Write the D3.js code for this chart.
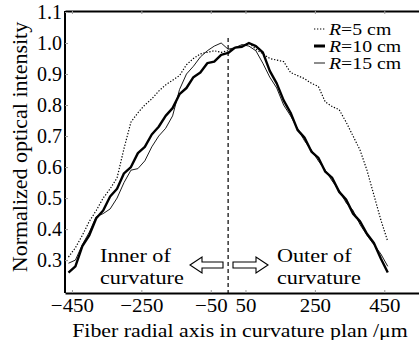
<!DOCTYPE html>
<html>
<head>
<meta charset="utf-8">
<script src="https://cdn.jsdelivr.net/npm/d3@7"></script>
<style>
  body { margin: 0; background: #fff; }
</style>
</head>
<body>
<div id="chart"></div>
<script>
// radial positions (um) shared by the three profiles
var radialPos = [-460, -440, -420, -400, -380, -360, -340, -320, -300, -280,
                 -260, -240, -220, -200, -180, -160, -140, -120, -100, -80,
                 -60, -40, -20, 0, 20, 40, 60, 80, 100, 120,
                 140, 160, 180, 200, 220, 240, 260, 280, 300, 320,
                 340, 360, 380, 400, 420, 440, 460];

var r5cm  = [0.31, 0.34, 0.38, 0.425, 0.46, 0.50, 0.53, 0.565, 0.66, 0.745,
             0.775, 0.80, 0.82, 0.845, 0.865, 0.88, 0.895, 0.93, 0.95, 0.965,
             0.97, 0.975, 0.97, 0.975, 0.985, 0.99, 1.0, 0.98, 0.965, 0.95,
             0.945, 0.94, 0.905, 0.895, 0.885, 0.87, 0.86, 0.81, 0.795, 0.785,
             0.745, 0.70, 0.655, 0.59, 0.51, 0.43, 0.36];

var r10cm = [0.26, 0.28, 0.345, 0.38, 0.435, 0.46, 0.505, 0.53, 0.58, 0.60,
             0.645, 0.665, 0.705, 0.73, 0.765, 0.79, 0.835, 0.855, 0.89, 0.905,
             0.935, 0.94, 0.962, 0.968, 0.985, 0.988, 1.0, 0.99, 0.97, 0.91,
             0.87, 0.815, 0.775, 0.72, 0.695, 0.65, 0.63, 0.585, 0.565, 0.52,
             0.495, 0.45, 0.425, 0.385, 0.355, 0.305, 0.26];

var r15cm = [0.29, 0.30, 0.35, 0.39, 0.44, 0.45, 0.465, 0.50, 0.55, 0.59,
             0.595, 0.62, 0.665, 0.70, 0.725, 0.765, 0.85, 0.90, 0.925, 0.955,
             0.975, 0.99, 1.0, 0.98, 0.985, 0.995, 0.99, 0.975, 0.935, 0.89,
             0.855, 0.80, 0.765, 0.725, 0.685, 0.655, 0.62, 0.59, 0.555, 0.525,
             0.485, 0.46, 0.415, 0.38, 0.35, 0.32, 0.28];

var xTicks = [-450, -250, -50, 50, 250, 450];
var yTicks = [0.3, 0.4, 0.5, 0.6, 0.7, 0.8, 0.9, 1.0, 1.1];
var legendRadii = ["5", "10", "15"];

var width = 419, height = 340;
var serif = "'Liberation Serif'";

var x = d3.scaleLinear().domain([-470, 550]).range([65, 419]);
var y = d3.scaleLinear().domain([0.194, 1.1]).range([293, 12]);

var svg = d3.select("#chart").append("svg")
  .attr("width", width)
  .attr("height", height);

// axes
var xAxis = d3.axisBottom(x).tickValues(xTicks)
  .tickSizeInner(-3).tickSizeOuter(0).tickPadding(6)
  .tickFormat(d3.format("d"));

var gx = svg.append("g")
  .attr("transform", "translate(0,293)")
  .call(xAxis);
gx.select(".domain").attr("stroke-width", 2);
gx.selectAll(".tick line").attr("stroke", "#999");
gx.selectAll("text").attr("font-size", 19).attr("transform", "scale(1.1,1)");

var gtop = svg.append("g")
  .attr("transform", "translate(0,11)")
  .call(d3.axisTop(x).tickValues(xTicks).tickSizeInner(-3).tickSizeOuter(0).tickFormat(""));
gtop.select(".domain").attr("stroke-width", 2);
gtop.selectAll(".tick line").attr("stroke", "#999");

var yAxis = d3.axisLeft(y).tickValues(yTicks)
  .tickSizeInner(-3).tickSizeOuter(0).tickPadding(3)
  .tickFormat(d3.format(".1f"));

var gy = svg.append("g")
  .attr("transform", "translate(65,0)")
  .call(yAxis);
gy.select(".domain").attr("stroke-width", 2).attr("d", "M0,11V293");
gy.selectAll(".tick line").attr("stroke", "#999");
gy.selectAll("text").attr("font-size", 20);

// axis titles
svg.append("text")
  .attr("transform", "translate(240,337) scale(1.15,1)")
  .attr("text-anchor", "middle")
  .attr("font-size", 19)
  .text("Fiber radial axis in curvature plan /\u03bcm");

svg.append("text")
  .attr("transform", "translate(27,147) rotate(-90)")
  .attr("text-anchor", "middle")
  .attr("font-size", 22)
  .text("Normalized optical intensity");

// centre line
svg.append("line")
  .attr("x1", x(0)).attr("x2", x(0))
  .attr("y1", 38).attr("y2", 294)
  .attr("stroke", "#000")
  .attr("stroke-width", 1.2)
  .attr("stroke-dasharray", "4,3");

// profiles
var line = d3.line()
  .x(function(d, i) { return x(radialPos[i]); })
  .y(function(d) { return y(d); });

var styles = [
  {data: r5cm,  width: 1.2, dash: "1.3,1.7"},
  {data: r10cm, width: 2.4, dash: null},
  {data: r15cm, width: 0.9, dash: null}
];

styles.forEach(function(s) {
  svg.append("path")
    .datum(s.data)
    .attr("fill", "none")
    .attr("stroke", "#000")
    .attr("stroke-width", s.width)
    .attr("stroke-dasharray", s.dash)
    .attr("stroke-linejoin", "round")
    .attr("d", line);
});

// legend (text squeezed vertically like the scanned figure)
var legend = svg.append("g");
legendRadii.forEach(function(r, i) {
  var ly = 29 + i * 17;
  legend.append("line")
    .attr("x1", 314).attr("x2", 325)
    .attr("y1", ly).attr("y2", ly)
    .attr("stroke", "#000")
    .attr("stroke-width", i === 1 ? 3 : styles[i].width)
    .attr("stroke-dasharray", styles[i].dash);
  var t = legend.append("text")
    .attr("transform", "translate(329," + (ly + 5.5) + ") scale(1.2,1)")
    .attr("font-size", 16.5);
  t.append("tspan").attr("font-style", "italic").text("R");
  t.append("tspan").text("=" + r + " cm");
});

// annotations
function note(x0, lines) {
  lines.forEach(function(s, i) {
    svg.append("text")
      .attr("transform", "translate(" + x0 + "," + (262 + i * 21.5) + ") scale(1.2,1)")
      .attr("font-size", 18.5)
      .text(s);
  });
}
note(100, ["Inner of", "curvature"]);
note(277, ["Outer of", "curvature"]);

function arrow(tip, tail, dir) {
  var cy = 265, hh = 8, bh = 3, hl = 12 * dir;
  var pts = [[tip, cy], [tip + hl, cy - hh], [tip + hl, cy - bh], [tail, cy - bh],
             [tail, cy + bh], [tip + hl, cy + bh], [tip + hl, cy + hh]];
  svg.append("path")
    .attr("d", "M" + pts.join("L") + "Z")
    .attr("fill", "#fff")
    .attr("stroke", "#000")
    .attr("stroke-width", 1.1);
}
arrow(190, 223, 1);
arrow(268, 233, -1);

svg.selectAll("text").style("font-family", serif).style("fill", "#000");
</script>
</body>
</html>
